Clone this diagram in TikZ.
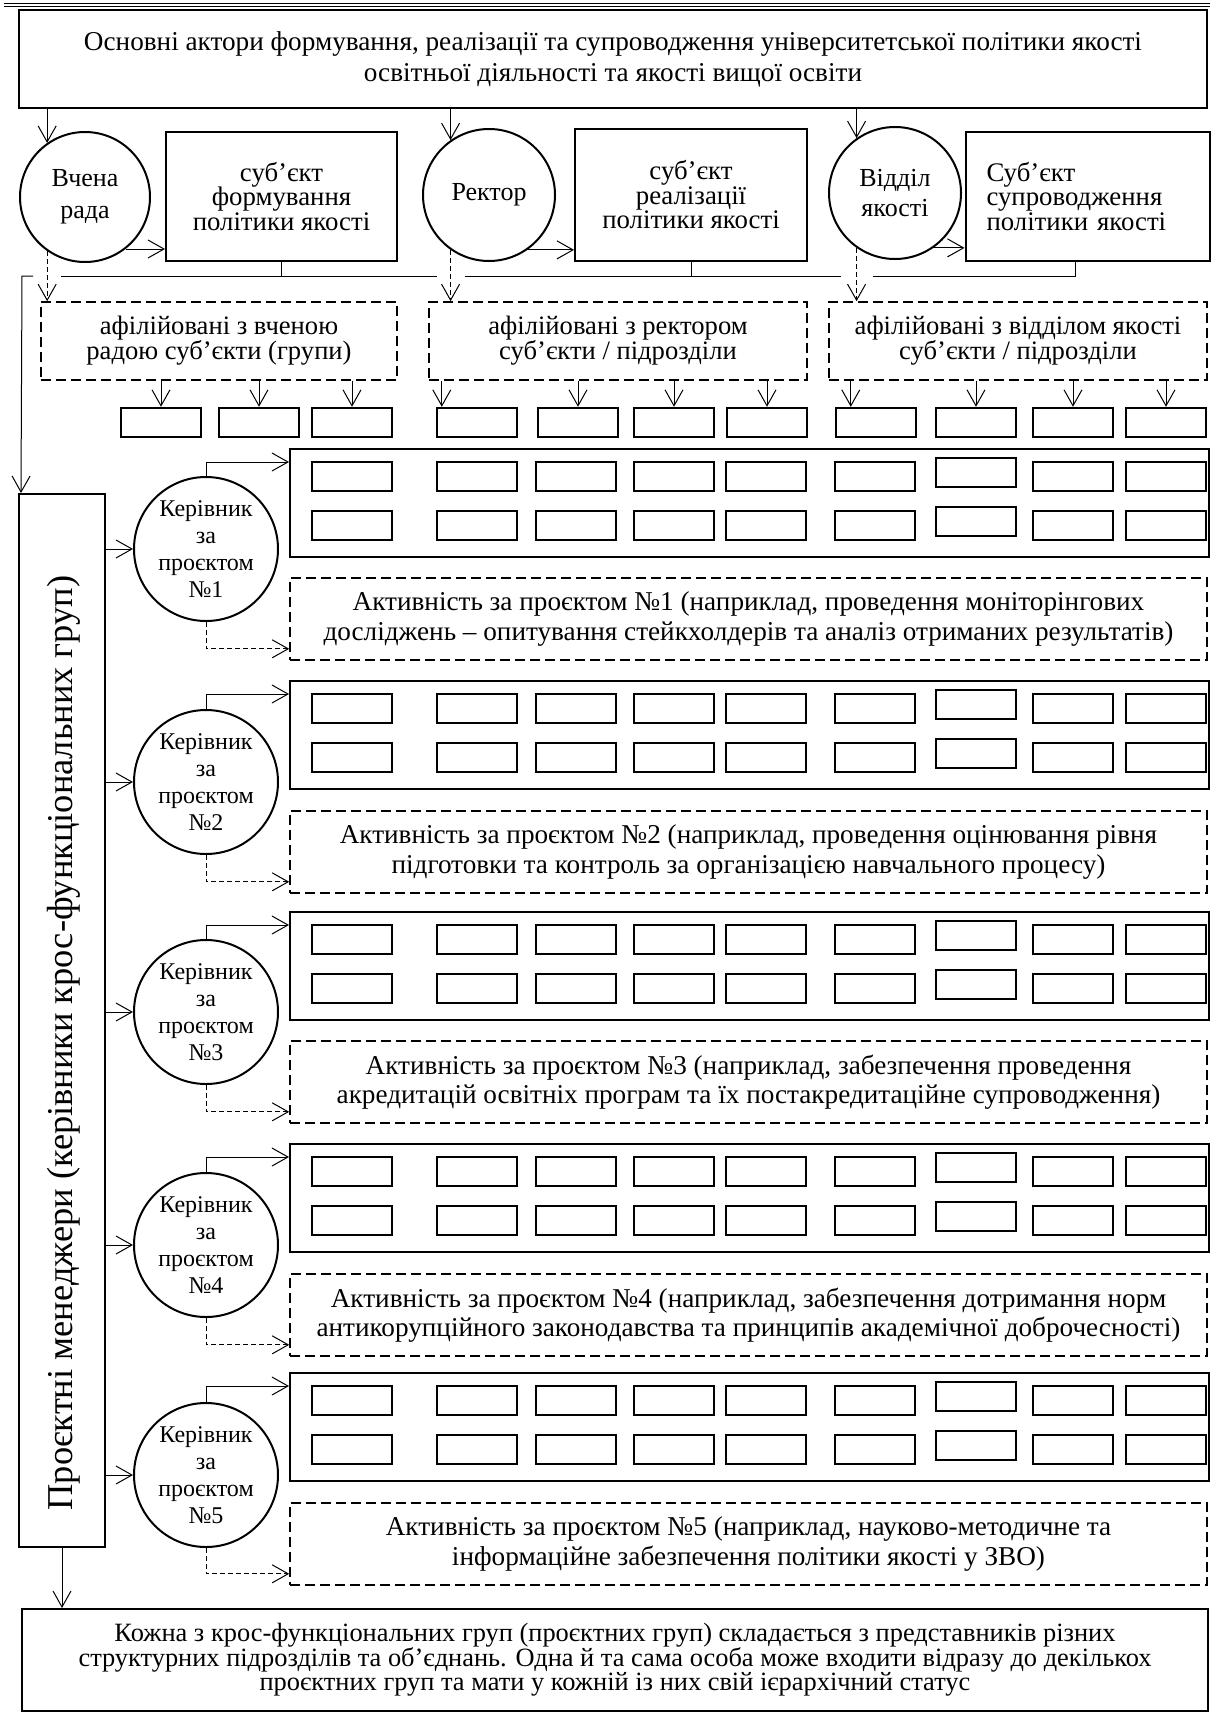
\documentclass[tikz,border=0pt]{standalone}
\usepackage{fontspec}
\setmainfont{Liberation Serif}
\usetikzlibrary{arrows.meta}

\begin{document}
\begin{tikzpicture}[x=0.5pt,y=-0.5pt,
  every node/.style={inner sep=0pt, font=\fontsize{13.4}{15}\selectfont},
  box/.style={draw, line width=1pt, align=center},
  cell/.style={draw, line width=1.2pt, minimum width=40pt, minimum height=14.5pt},
  afbox/.style={draw, line width=0.8pt, dash pattern=on 5pt off 2.5pt, align=center},
  role/.style={draw, circle, line width=1pt, align=center},
  arr/.style={line width=0.5pt, -{Straight Barb[length=8pt,width=9pt]}},
  darr/.style={arr, dash pattern=on 2.5pt off 1.5pt}]
  \useasboundingbox (0,0) rectangle (1210,1713);
  \draw[line width=0.4pt, double, double distance=0.8pt] (4,5) -- (1210,5);

  \node[box, minimum width=594pt, minimum height=49pt, font=\fontsize{13.6}{15.5}\selectfont] (top) at (613,59)
    {Основні актори формування, реалізації та супроводження університетської політики якості\\освітньої діяльності та якості вищої освіти};

  \node[role, minimum size=65pt, font=\fontsize{13}{16}\selectfont] (rada) at (85,197) {Вчена\\рада};
  \node[role, minimum size=66pt, font=\fontsize{13}{15}\selectfont] (rector) at (489,195) {Ректор};
  \node[role, minimum size=66pt, font=\fontsize{13}{15}\selectfont] (vid) at (895,193) {Відділ\\якості};
  \node[box, minimum width=115.5pt, minimum height=64.5pt, font=\fontsize{13.4}{12.25}\selectfont] (form) at (281.5,196.5)
    {суб’єкт\\формування\\політики якості};
  \node[box, minimum width=116pt, minimum height=66pt, font=\fontsize{13.4}{12.25}\selectfont] (real) at (691,195)
    {суб’єкт\\реалізації\\політики якості};
  \node[box, align=left, text width=101pt, inner xsep=10.5pt, minimum height=64.5pt, font=\fontsize{13.4}{12.25}\selectfont] (supr) at (1087.5,196.5)
    {Суб’єкт\\супроводження\\політики якості};

  \draw[arr] (top.south -| rada.125) -- (rada.125);
  \draw[arr] (top.south -| rector.125) -- (rector.125);
  \draw[arr] (top.south -| vid.125) -- (vid.125);
  \draw[arr] (rada.-52) -- (form.west |- rada.-52);
  \draw[arr] (rector.-55) -- (real.west |- rector.-55);
  \draw[arr] (vid.-55) -- (supr.west |- vid.-55);

  \node[afbox, minimum width=178pt, minimum height=39pt, font=\fontsize{13.3}{12.5}\selectfont] (aff1) at (219,341)
    {афілійовані з вченою\\радою суб’єкти (групи)};
  \node[afbox, minimum width=189pt, minimum height=39pt, font=\fontsize{13.3}{12.5}\selectfont] (aff2) at (618,341)
    {афілійовані з ректором\\суб’єкти / підрозділи};
  \node[afbox, minimum width=189pt, minimum height=39pt, font=\fontsize{13.3}{12.5}\selectfont] (aff3) at (1018,341)
    {афілійовані з відділом якості\\суб’єкти / підрозділи};

  \draw[darr] (rada.-125) -- (aff1.north -| rada.-125);
  \draw[darr] (rector.-125) -- (aff2.north -| rector.-125);
  \draw[darr] (vid.-125) -- (aff3.north -| vid.-125);

  \node[box, minimum width=43pt, minimum height=526.5pt] (pm) at (62,1020.5) {};
  \node[rotate=90, font=\fontsize{18.2}{20}\selectfont] (pmlabel) at (64,1043)
    {Проєктні менеджери (керівники крос-функціональних груп)};

  \coordinate (bus) at (22,276);
  \draw[line width=0.5pt] (form.south) -- (form.south |- bus);
  \draw[line width=0.5pt] (real.south) -- (real.south |- bus);
  \draw[arr] ([xshift=-7pt]rada.-125 |- bus) -- (bus) -- ([xshift=1.5pt]pm.north west);
  \draw[line width=0.5pt] ([xshift=7pt]rada.-125 |- bus) -- ([xshift=-7pt]rector.-125 |- bus);
  \draw[line width=0.5pt] ([xshift=7pt]rector.-125 |- bus) -- ([xshift=-8pt]vid.-125 |- bus);
  \draw[line width=0.5pt] ([xshift=8pt]vid.-125 |- bus) -- ([xshift=-6pt]supr.south |- bus) -- ([xshift=-6pt]supr.south);

  \foreach \x [count=\i] in {161,259,352,477,578,674,767,876,976,1073,1166}
    \node[cell] (sb\i) at (\x,422.5) {};
  \foreach \i in {1,2,3}
    \draw[arr] (aff1.south -| sb\i) -- (sb\i);
  \draw[arr] ([xshift=3pt]sb4.north west |- aff2.south) -- ([xshift=3pt]sb4.north west);
  \foreach \i in {5,6,7}
    \draw[arr] (aff2.south -| sb\i) -- (sb\i);
  \draw[arr] ([xshift=8pt]sb8.north west |- aff3.south) -- ([xshift=8pt]sb8.north west);
  \foreach \i in {9,10,11}
    \draw[arr] (aff3.south -| sb\i) -- (sb\i);

  \foreach \n/\yb/\yd/\yc/\txt in {
    1/503/619/549/{Активність за проєктом №1 (наприклад, проведення моніторінгових\\досліджень – опитування стейкхолдерів та аналіз отриманих результатів)},
    2/735/852/782/{Активність за проєктом №2 (наприклад, проведення оцінювання рівня\\підготовки та контроль за організацією навчального процесу)},
    3/966/1082/1012/{Активність за проєктом №3 (наприклад, забезпечення проведення\\акредитацій освітніх програм та їх постакредитаційне супроводження)},
    4/1198/1315/1245/{Активність за проєктом №4 (наприклад, забезпечення дотримання норм\\антикорупційного законодавства та принципів академічної доброчесності)},
    5/1427/1544/1475/{Активність за проєктом №5 (наприклад, науково-методичне та\\інформаційне забезпечення політики якості у ЗВО)}} {
    \node[box, minimum width=459.5pt, minimum height=54pt] (big\n) at (749.5,\yb) {};
    \foreach \cx/\dy [count=\c] in {352/0,477/0,576/0,674/0,766/0,875/0,976/4,1073/0,1166/0} {
      \node[cell] (cell\n-\c-a) at (\cx,\yb-26.5-\dy) {};
      \node[cell] (cell\n-\c-b) at (\cx,\yb+22.5-\dy) {};
    }
    \node[afbox, minimum width=458.5pt, minimum height=41pt, font=\fontsize{13.6}{14.8}\selectfont] (act\n) at (748.5,\yd) {\txt};
    \node[role, minimum size=72pt] (k\n) at (206,\yc) {};
    \node[align=center, font=\fontsize{12}{13.5}\selectfont] (kt\n) at (k\n) {Керівник\\за\\проєктом\\№\n};
    \draw[arr] (pm.east |- k\n.west) -- (k\n.west);
    \draw[arr] (k\n.north) |- ([yshift=-7pt]big\n.north west);
    \draw[darr] (k\n.south) |- ([yshift=6pt]act\n.south west);
  }

  \node[box, minimum width=593pt, minimum height=51pt, font=\fontsize{13.2}{12.3}\selectfont] (note) at (615,1660)
    {Кожна з крос-функціональних груп (проєктних груп) складається з представників різних\\структурних підрозділів та об’єднань. Одна й та сама особа може входити відразу до декількох\\проєктних груп та мати у кожній із них свій ієрархічний статус};
  \draw[arr] (pm.south) -- (pm.south |- note.north);
\end{tikzpicture}
\end{document}
